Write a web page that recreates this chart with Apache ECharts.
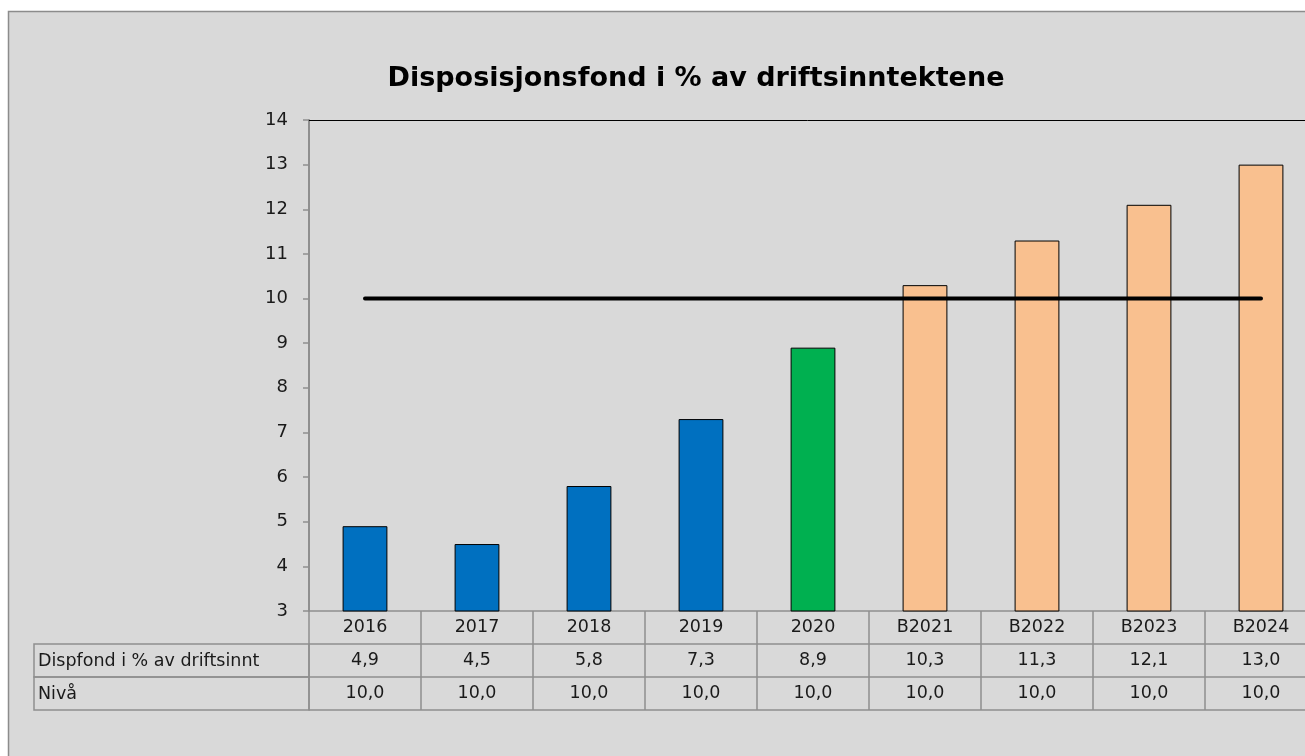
<!DOCTYPE html>
<html>
<head>
<meta charset="utf-8">
<title>Disposisjonsfond</title>
<script src="https://cdn.jsdelivr.net/npm/echarts@6/dist/echarts.min.js"></script>
<style>
  html, body { margin: 0; padding: 0; background: #ffffff; }
  #main { width: 1305px; height: 756px; }
</style>
</head>
<body>
<div id="main"></div>
<script>
// data
var categories = ['2016', '2017', '2018', '2019', '2020', 'B2021', 'B2022', 'B2023', 'B2024'];
var dispfond = [4.9, 4.5, 5.8, 7.3, 8.9, 10.3, 11.3, 12.1, 13.0];
var niva = [10.0, 10.0, 10.0, 10.0, 10.0, 10.0, 10.0, 10.0, 10.0];
var rowNames = ['Dispfond i % av driftsinnt', 'Nivå'];

var font = 'DejaVu Sans';
var gridLine = '#8f8f8f';

function fmt(v) {
  return Number(v).toFixed(1).replace('.', ',');
}

function barColor(cat) {
  if (cat.charAt(0) == 'B') return '#f9c08f';
  if (cat == '2020') return '#00b050';
  return '#0070c0';
}

var chartDom = document.getElementById('main');
var myChart = echarts.init(chartDom);

// one bottom axis per table row, each pushed further down
function tableAxis(offset, labels, showTicks) {
  return {
    type: 'category',
    data: categories,
    position: 'bottom',
    offset: offset,
    axisLine: { show: true, lineStyle: { color: gridLine, width: 1.5 } },
    axisTick: { show: showTicks, interval: 0, alignWithLabel: false, length: 33, lineStyle: { color: gridLine, width: 1.5 } },
    axisLabel: labels ? {
      show: true,
      interval: 0,
      margin: 7,
      fontFamily: font,
      fontSize: 17.5,
      color: '#1a1a1a',
      formatter: function (v, i) { return labels[i]; }
    } : { show: false },
    splitLine: { show: false }
  };
}

var option = {
  backgroundColor: '#ffffff',
  animation: false,
  title: {
    text: 'Disposisjonsfond i % av driftsinntektene',
    left: 691,
    textAlign: 'center',
    top: 60,
    textStyle: { fontFamily: font, fontWeight: 'bold', fontSize: 27, color: '#000' }
  },
  graphic: [
    {
      type: 'rect', z: -10, silent: true,
      shape: { x: 8.5, y: 11.5, width: 1400, height: 800 },
      style: { fill: '#d9d9d9', stroke: '#8c8c8c', lineWidth: 1.5 }
    },
    {
      type: 'rect', z: 5, silent: true,
      shape: { x: 34, y: 644, width: 275, height: 33 },
      style: { fill: 'transparent', stroke: gridLine, lineWidth: 1.5 }
    },
    {
      type: 'rect', z: 5, silent: true,
      shape: { x: 34, y: 677, width: 275, height: 33 },
      style: { fill: 'transparent', stroke: gridLine, lineWidth: 1.5 }
    },
    {
      type: 'text', z: 6, silent: true,
      style: { x: 38, y: 661, text: rowNames[0], fontFamily: font, fontSize: 17.5, fill: '#1a1a1a', verticalAlign: 'middle' }
    },
    {
      type: 'text', z: 6, silent: true,
      style: { x: 38, y: 694, text: rowNames[1], fontFamily: font, fontSize: 17.5, fill: '#1a1a1a', verticalAlign: 'middle' }
    }
  ],
  grid: {
    left: 309,
    width: 1008,
    top: 120,
    bottom: 145,
    containLabel: false,
    outerBoundsMode: 'none'
  },
  xAxis: [
    tableAxis(0, categories, true),
    tableAxis(33, dispfond.map(fmt), true),
    tableAxis(66, niva.map(fmt), true),
    tableAxis(99, null, false),
    {
      // top border of the plot area
      type: 'category',
      data: categories,
      position: 'top',
      axisLine: { show: true, lineStyle: { color: '#000', width: 1 } },
      axisTick: { show: false },
      axisLabel: { show: false }
    }
  ],
  yAxis: {
    type: 'value',
    min: 3,
    max: 14,
    interval: 1,
    axisLine: { show: true, lineStyle: { color: gridLine, width: 2 } },
    axisTick: { show: true, length: 6, lineStyle: { color: gridLine, width: 1.5 } },
    axisLabel: { margin: 21, fontFamily: font, fontSize: 18, color: '#1a1a1a' },
    splitLine: { show: false }
  },
  series: [
    {
      name: rowNames[0],
      type: 'bar',
      xAxisIndex: 0,
      barWidth: '40%',
      data: dispfond.map(function (v, i) {
        return {
          value: v,
          itemStyle: { color: barColor(categories[i]), borderColor: '#000', borderWidth: 1 }
        };
      })
    },
    {
      name: rowNames[1],
      type: 'line',
      xAxisIndex: 0,
      symbol: 'none',
      z: 3,
      lineStyle: { color: '#000', width: 4, cap: 'round' },
      data: niva
    }
  ]
};

myChart.setOption(option);
</script>
</body>
</html>
